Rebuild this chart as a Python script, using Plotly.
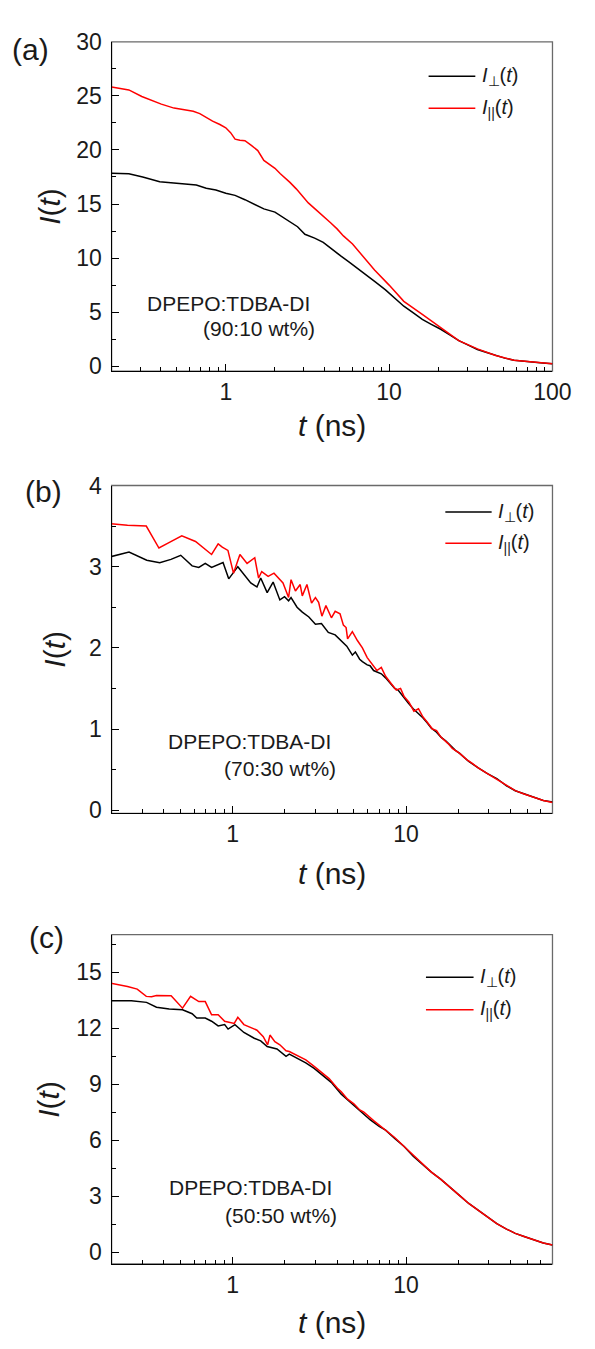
import math
import plotly.graph_objects as go

# ---------------- data ----------------
# Panel (a) DPEPO:TDBA-DI 90:10 wt%
t_a_perp = [0.2, 0.255, 0.31, 0.394, 0.48, 0.578, 0.66, 0.759, 0.87, 1.0, 1.14, 1.31, 1.5, 1.71, 2.0, 2.2,
            2.48, 2.75, 3.05, 3.5, 3.95, 4.3, 4.61, 5.1, 5.67, 6.4, 7.34, 8.3, 9.5, 10.8, 12.3, 14.0, 15.96,
            18.0, 20.7, 23.5, 26.7, 30.5, 34.7, 40, 44.9, 51, 58.2, 66, 75.2, 87, 100]
I_a_perp = [17.85, 17.8, 17.5, 17.05, 16.95, 16.87, 16.75, 16.45, 16.3, 16.0, 15.8, 15.4, 15.0, 14.55, 14.25,
            13.85, 13.27, 12.9, 12.2, 11.85, 11.45, 11.0, 10.64, 10.15, 9.64, 9.05, 8.42, 7.75, 7.06, 6.3,
            5.55, 4.95, 4.33, 3.9, 3.42, 2.9, 2.36, 1.95, 1.55, 1.25, 0.98, 0.75, 0.55, 0.45, 0.38, 0.3, 0.24]
t_a_par = [0.2, 0.255, 0.306, 0.35, 0.403, 0.482, 0.55, 0.632, 0.693, 0.76, 0.83, 0.92, 1.0, 1.07, 1.14, 1.22,
           1.31, 1.44, 1.57, 1.71, 1.88, 2.0, 2.15, 2.3, 2.47, 2.7, 2.94, 3.2, 3.56, 3.95, 4.38, 4.8, 5.25,
           5.97, 6.97, 8.14, 10.0, 12.3, 15.96, 20.7, 26.7, 34.7, 44.9, 58.2, 75.2, 100]
I_a_par = [25.82, 25.55, 24.94, 24.6, 24.24, 23.87, 23.7, 23.57, 23.36, 23.0, 22.66, 22.35, 22.05, 21.6, 21.0,
           20.9, 20.85, 20.4, 19.94, 19.03, 18.57, 18.3, 17.82, 17.45, 17.0, 16.4, 15.7, 15.1, 14.48, 13.9,
           13.27, 12.7, 12.05, 11.3, 10.1, 8.9, 7.5, 6.0, 4.8, 3.58, 2.36, 1.6, 1.0, 0.55, 0.39, 0.24]

# Panel (b) 70:30 wt%
t_b_perp = [0.195, 0.252, 0.319, 0.379, 0.44, 0.501, 0.583, 0.637, 0.694, 0.755, 0.879, 0.948, 1.07, 1.16,
            1.27, 1.38, 1.45, 1.58, 1.71, 1.87, 1.99, 2.10, 2.17, 2.35, 2.52, 2.75, 3.0, 3.25, 3.56, 3.9,
            4.23, 4.55, 4.9, 5.1, 5.4, 5.6, 5.97, 6.2, 6.5, 6.8, 7.2, 7.62, 8.0, 8.6, 9.0, 9.75, 10.3, 11.0,
            11.7, 12.5, 13.2, 14.0, 15.0, 15.9, 17.0, 18.0, 19.2, 20.4, 23.0, 26.1, 29.5, 33.4, 38, 42.7,
            48, 54.6, 62, 70]
I_b_perp = [3.12, 3.18, 3.08, 3.05, 3.09, 3.14, 3.01, 2.99, 3.04, 2.99, 3.05, 2.85, 3.00, 2.90, 2.80, 2.75,
            2.86, 2.68, 2.81, 2.59, 2.63, 2.58, 2.62, 2.50, 2.44, 2.38, 2.29, 2.30, 2.19, 2.16, 2.09, 2.02,
            1.91, 1.95, 1.86, 1.83, 1.79, 1.78, 1.72, 1.70, 1.68, 1.63, 1.58, 1.50, 1.48, 1.38, 1.32, 1.25,
            1.20, 1.14, 1.08, 1.01, 0.96, 0.90, 0.85, 0.80, 0.74, 0.70, 0.60, 0.52, 0.45, 0.39, 0.30, 0.24,
            0.20, 0.16, 0.12, 0.10]
t_b_par = [0.195, 0.247, 0.317, 0.375, 0.431, 0.508, 0.61, 0.755, 0.824, 0.87, 0.938, 1.01, 1.10, 1.21, 1.34,
           1.41, 1.47, 1.60, 1.73, 1.95, 2.10, 2.17, 2.3, 2.45, 2.52, 2.68, 2.85, 3.0, 3.13, 3.27, 3.45,
           3.71, 3.9, 4.16, 4.35, 4.51, 4.6, 4.9, 5.24, 5.6, 5.97, 6.4, 6.79, 7.2, 7.62, 8.2, 8.79, 9.3,
           9.75, 10.4, 11.1, 11.8, 12.5, 13.3, 14.2, 15.0, 15.9, 17.5, 18.5, 20.4, 22.5, 24, 26.1, 29.5,
           33.4, 38, 42.7, 48, 54.6, 62, 70]
I_b_par = [3.53, 3.51, 3.50, 3.23, 3.30, 3.38, 3.31, 3.15, 3.28, 3.24, 3.20, 2.92, 3.15, 3.04, 3.11, 2.86,
           2.94, 2.88, 2.92, 2.80, 2.62, 2.84, 2.70, 2.78, 2.64, 2.78, 2.55, 2.62, 2.56, 2.39, 2.52, 2.37,
           2.45, 2.42, 2.28, 2.25, 2.11, 2.20, 2.09, 2.00, 1.88, 1.80, 1.72, 1.76, 1.65, 1.56, 1.48, 1.50,
           1.40, 1.33, 1.22, 1.25, 1.15, 1.08, 1.00, 0.98, 0.90, 0.82, 0.76, 0.70, 0.62, 0.58, 0.52, 0.45,
           0.38, 0.31, 0.24, 0.20, 0.155, 0.12, 0.095]

# Panel (c) 50:50 wt%
t_c_perp = [0.195, 0.26, 0.318, 0.363, 0.43, 0.513, 0.583, 0.62, 0.694, 0.755, 0.824, 0.898, 0.94, 1.03,
            1.16, 1.33, 1.45, 1.58, 1.8, 2.03, 2.12, 2.4, 2.64, 2.95, 3.27, 3.7, 4.23, 4.8, 5.41, 6.2, 7.0,
            7.62, 8.6, 9.75, 11.0, 12.5, 14.0, 15.9, 18.0, 20.4, 23.0, 26.1, 29.5, 33.4, 38, 42.7, 48,
            54.6, 62, 70]
I_c_perp = [13.47, 13.47, 13.38, 13.12, 13.03, 12.98, 12.77, 12.54, 12.54, 12.37, 12.12, 12.19, 11.95, 12.19,
            11.77, 11.46, 11.32, 11.02, 10.89, 10.49, 10.61, 10.35, 10.14, 9.85, 9.53, 9.1, 8.47, 8.0, 7.59,
            7.1, 6.75, 6.54, 6.1, 5.67, 5.15, 4.70, 4.3, 3.91, 3.45, 3.04, 2.62, 2.25, 1.88, 1.54, 1.25,
            1.02, 0.85, 0.67, 0.5, 0.40]
t_c_par = [0.195, 0.247, 0.281, 0.317, 0.34, 0.363, 0.441, 0.513, 0.571, 0.637, 0.694, 0.755, 0.824, 0.898,
           1.02, 1.07, 1.16, 1.29, 1.38, 1.50, 1.59, 1.64, 1.75, 1.87, 2.03, 2.12, 2.35, 2.64, 2.95, 3.27,
           3.6, 4.05, 4.23, 4.6, 5.0, 5.41, 5.71, 6.5, 7.62, 8.6, 9.75, 11.0, 12.5, 14.0, 15.9, 18.0, 20.4,
           23.0, 26.1, 29.5, 33.4, 38, 42.7, 48, 54.6, 62, 70]
I_c_par = [14.41, 14.23, 14.09, 13.70, 13.68, 13.75, 13.74, 13.07, 13.70, 13.42, 13.42, 12.72, 12.72, 12.37,
           12.25, 12.58, 12.19, 11.98, 11.89, 11.54, 11.11, 11.63, 11.28, 11.11, 10.79, 10.75, 10.55, 10.30,
           9.95, 9.60, 9.3, 8.75, 8.6, 8.2, 7.95, 7.62, 7.51, 7.05, 6.54, 6.15, 5.67, 5.2, 4.70, 4.3, 3.91,
           3.45, 3.04, 2.62, 2.25, 1.88, 1.54, 1.25, 1.02, 0.85, 0.67, 0.5, 0.40]

panel_labels = ["(a)", "(b)", "(c)"]
sample_names = ["DPEPO:TDBA-DI", "DPEPO:TDBA-DI", "DPEPO:TDBA-DI"]
ratios = ["(90:10 wt%)", "(70:30 wt%)", "(50:50 wt%)"]
x_major = [1, 10, 100]
x_minor_a = [0.3, 0.4, 0.5, 0.6, 0.7, 0.8, 0.9, 2, 3, 4, 5, 6, 7, 8, 9, 20, 30, 40, 50, 60, 70, 80, 90]
x_minor_bc = [0.3, 0.4, 0.5, 0.6, 0.7, 0.8, 0.9, 2, 3, 4, 5, 6, 7, 8, 9, 20, 30, 40, 50, 60]

# ---------------- figure ----------------
FONT = "Liberation Sans, Arial, sans-serif"
TXT = "#1a1a1a"
W, H = 595, 1349

fig = go.Figure()
series = [
    (t_a_perp, I_a_perp, t_a_par, I_a_par, "x", "y"),
    (t_b_perp, I_b_perp, t_b_par, I_b_par, "x2", "y2"),
    (t_c_perp, I_c_perp, t_c_par, I_c_par, "x3", "y3"),
]
for tp, ip, tq, iq, xa, ya in series:
    fig.add_trace(go.Scatter(x=tp, y=ip, mode="lines", line=dict(color="black", width=1.5),
                             xaxis=xa, yaxis=ya, showlegend=False))
    fig.add_trace(go.Scatter(x=tq, y=iq, mode="lines", line=dict(color="#ff0000", width=1.5),
                             xaxis=xa, yaxis=ya, showlegend=False))

# plot-area geometry (pixels)
left_px, right_px = 115.3, 570.7
panels_px = [(29.3, 364.3), (480.7, 814.3), (937.7, 1272.7)]
xdom = [left_px / W, right_px / W]


def xaxis_cfg(xmax, minor_vals):
    return dict(
        type="log", range=[math.log10(0.2), math.log10(xmax)], domain=xdom,
        showline=True, linecolor="black", linewidth=1.3, mirror=False,
        ticks="inside", ticklen=7, tickwidth=1.2, tickcolor="black",
        tickvals=x_major, ticktext=[str(v) for v in x_major],
        minor=dict(ticks="inside", ticklen=4, tickwidth=1, tickcolor="black", tickvals=minor_vals),
        showgrid=False, zeroline=False,
        tickfont=dict(family=FONT, size=23, color=TXT), ticklabelstandoff=0,
    )


def yaxis_cfg(rng, dt, top_px, bot_px, anchor):
    return dict(
        range=rng, domain=[1 - bot_px / H, 1 - top_px / H], anchor=anchor,
        showline=True, linecolor="black", linewidth=1.3, mirror=False,
        ticks="inside", ticklen=7, tickwidth=1.2, tickcolor="black",
        tick0=0, dtick=dt,
        minor=dict(ticks="inside", ticklen=4, tickwidth=1, tickcolor="black", tick0=0, dtick=dt / 2),
        showgrid=False, zeroline=False,
        tickfont=dict(family=FONT, size=23, color=TXT), ticklabelstandoff=4,
    )


fig.update_layout(
    width=W, height=H, margin=dict(l=0, r=0, t=0, b=0),
    paper_bgcolor="white", plot_bgcolor="white", showlegend=False,
    xaxis=dict(xaxis_cfg(100, x_minor_a), anchor="y"),
    xaxis2=dict(xaxis_cfg(70, x_minor_bc), anchor="y2"),
    xaxis3=dict(xaxis_cfg(70, x_minor_bc), anchor="y3"),
    yaxis=yaxis_cfg([-0.45, 30], 5, *panels_px[0], "x"),
    yaxis2=yaxis_cfg([-0.04, 4.0], 1, *panels_px[1], "x2"),
    yaxis3=yaxis_cfg([-0.62, 17], 3, *panels_px[2], "x3"),
)

shapes = []
annotations = []
axis_names = [("x", "y"), ("x2", "y2"), ("x3", "y3")]
# legend geometry in axis-domain fractions: (line x0, line x1, y perp, y par, text x)
legend_geo = [(0.719, 0.825, 0.8955, 0.798, 0.835),
              (0.757, 0.862, 0.919, 0.824, 0.872),
              (0.713, 0.821, 0.871, 0.772, 0.832)]
note_geo = [(0.076, 0.204, 0.2036, 0.129),
            (0.1223, 0.2197, 0.2508, 0.1358),
            (0.1254, 0.232, 0.2526, 0.148)]
label_px = [(31.7, 36.7), (45.3, 486.7), (48.3, 941)]
ytitle_x = [51, 56, 50]
xtitle_y = [420, 875, 1332]

for i, (xa, ya) in enumerate(axis_names):
    xd, yd = xa + " domain", ya + " domain"
    # grey frame (top/right)
    shapes.append(dict(type="rect", xref=xd, yref=yd, x0=0, x1=1, y0=0, y1=1,
                       line=dict(color="#6a6a6a", width=1.3), layer="below"))
    lx0, lx1, yp, yq, tx = legend_geo[i]
    shapes.append(dict(type="line", xref=xd, yref=yd, x0=lx0, x1=lx1, y0=yp, y1=yp,
                       line=dict(color="black", width=1.6)))
    shapes.append(dict(type="line", xref=xd, yref=yd, x0=lx0, x1=lx1, y0=yq, y1=yq,
                       line=dict(color="#ff0000", width=1.6)))
    annotations.append(dict(xref=xd, yref=yd, x=tx, y=yp, xanchor="left", yanchor="middle",
                            text="<i>I</i><sub>⊥</sub>(<i>t</i>)", showarrow=False,
                            font=dict(family=FONT, size=20, color=TXT)))
    annotations.append(dict(xref=xd, yref=yd, x=tx, y=yq, xanchor="left", yanchor="middle",
                            text="<i>I</i><sub>||</sub>(<i>t</i>)", showarrow=False,
                            font=dict(family=FONT, size=20, color=TXT)))
    nx, ny, rx, ry = note_geo[i]
    annotations.append(dict(xref=xd, yref=yd, x=nx, y=ny, xanchor="left", yanchor="middle",
                            text=sample_names[i], showarrow=False,
                            font=dict(family=FONT, size=21, color=TXT)))
    annotations.append(dict(xref=xd, yref=yd, x=rx, y=ry, xanchor="left", yanchor="middle",
                            text=ratios[i], showarrow=False,
                            font=dict(family=FONT, size=21, color=TXT)))
    # panel label
    px, py = label_px[i]
    annotations.append(dict(xref="paper", yref="paper", x=px / W, y=1 - py / H,
                            xanchor="center", yanchor="middle", text=panel_labels[i], showarrow=False,
                            font=dict(family=FONT, size=30, color=TXT)))
    top_px, bot_px = panels_px[i]
    annotations.append(dict(xref="paper", yref="paper", x=ytitle_x[i] / W,
                            y=1 - (top_px + bot_px) / 2 / H, xanchor="center", yanchor="middle",
                            text="<i>I</i>(<i>t</i>)", textangle=-90, showarrow=False,
                            font=dict(family=FONT, size=30, color=TXT)))
    annotations.append(dict(xref="paper", yref="paper", x=343 / W, y=1 - xtitle_y[i] / H,
                            xanchor="center", yanchor="middle",
                            text="<i>t</i> (ns)", showarrow=False,
                            font=dict(family=FONT, size=30, color=TXT)))

fig.update_layout(shapes=shapes, annotations=annotations)
fig.write_html("out.html")
